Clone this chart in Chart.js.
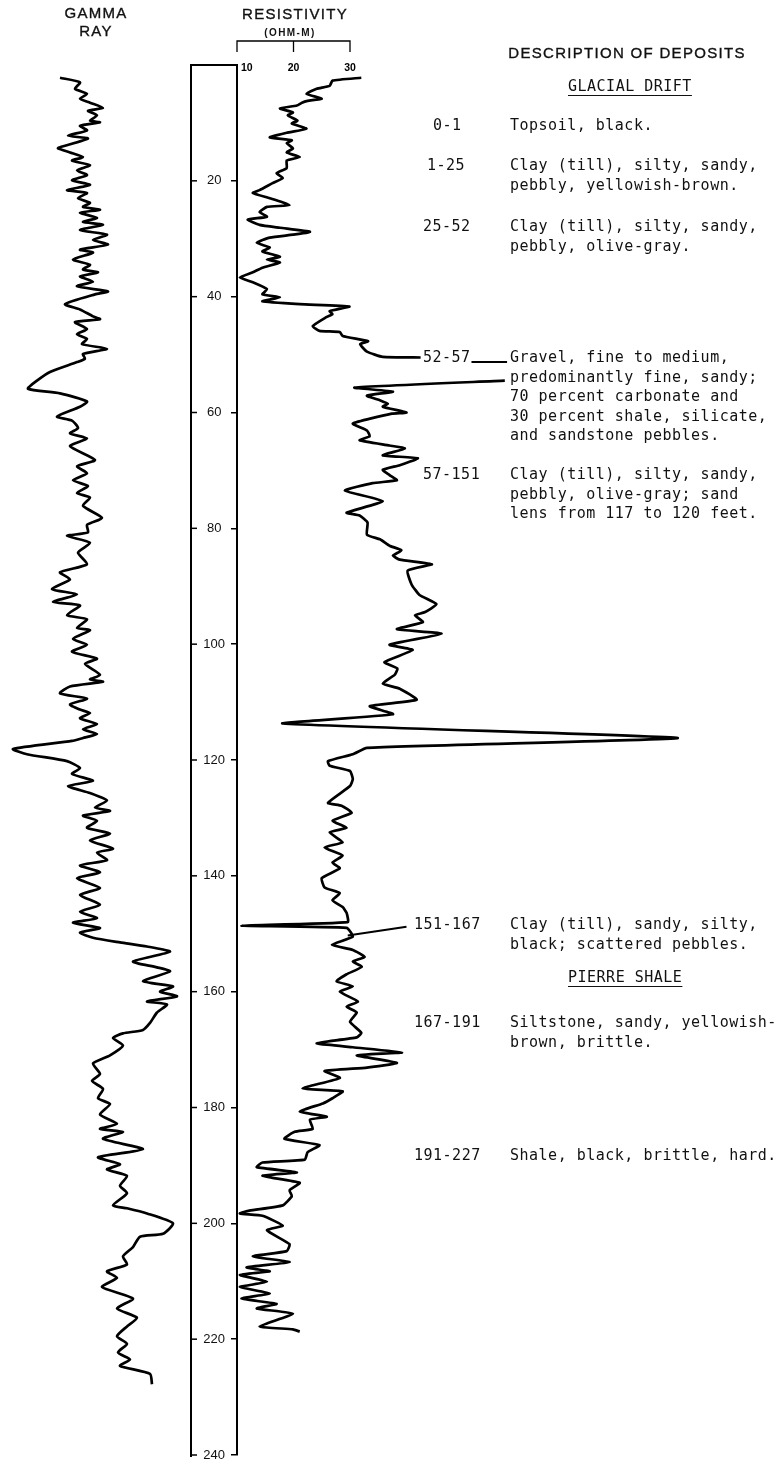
<!DOCTYPE html>
<html lang="en">
<head>
<meta charset="utf-8">
<title>Gamma ray and resistivity log</title>
<script src="https://cdn.jsdelivr.net/npm/chart.js@4.4.1/dist/chart.umd.min.js"></script>
<style>
  html, body { margin:0; padding:0; background:#fff; }
  #page { position:relative; width:782px; height:1460px; overflow:hidden; background:#fff; }
  #gammaChart { position:absolute; left:0; top:0; }
  #resChart { position:absolute; left:186px; top:0; }
  .hd { position:absolute; transform:translate(-50%,-50%); font-family:"Liberation Sans", Arial, sans-serif;
        font-size:15px; letter-spacing:1.3px; color:#111; white-space:nowrap; line-height:1;
        -webkit-text-stroke:0.35px #111; }
  .sub { font-size:10px; font-weight:bold; letter-spacing:1.4px; -webkit-text-stroke:0; }
  .mono { position:absolute; font-family:"DejaVu Sans Mono", monospace; font-size:15px; letter-spacing:0.5px;
          color:#111; white-space:pre; line-height:19.5px; }
  .ul { text-decoration:underline; text-underline-offset:4px; text-decoration-thickness:1px; }
</style>
</head>
<body>
<div id="page">
  <canvas id="gammaChart" width="190" height="1460"></canvas>
  <canvas id="resChart" width="596" height="1460"></canvas>
  <div class="hd" style="left:96px;top:12px">GAMMA</div>
  <div class="hd" style="left:96px;top:30px">RAY</div>
  <div class="hd" style="left:295px;top:12.5px">RESISTIVITY</div>
  <div class="hd sub" style="left:290px;top:32.5px">(OHM-M)</div>
  <div class="hd" style="left:627px;top:52px">DESCRIPTION OF DEPOSITS</div>
  <div id="desc"></div>
</div>
<script>
// ---- Depth scale (feet) ----
const depthMin = 0;
const depthMax = 240;
const depthStep = 20;

// ---- Resistivity scale ticks (ohm-m) ----
const resTicks = [10, 20, 30];

// ---- Gamma-ray log: depth (ft) and relative response ----
const gammaDepth = [2.2,3.0,4.1,5.0,5.8,6.5,7.4,7.9,8.7,9.6,9.9,10.5,11.3,12.2,12.7,14.2,14.4,15.1,15.9,16.5,17.3,18.2,19.0,19.9,20.7,21.6,22.1,23.0,23.8,24.5,25.0,25.5,26.4,27.1,27.6,28.5,29.3,30.2,31.0,31.9,32.4,33.6,34.5,35.3,35.8,36.5,37.4,38.2,39.1,39.6,41.3,42.2,43.4,43.9,44.4,45.6,46.5,47.3,48.2,49.0,49.9,50.7,51.3,53.0,54.5,55.9,56.7,58.1,59.0,60.7,61.4,62.7,63.6,64.5,65.8,68.2,69.3,70.5,71.7,72.7,73.9,74.7,76.1,78.2,79.4,80.7,81.3,82.5,84.2,86.2,87.6,88.8,90.5,91.4,92.7,93.3,95.0,95.7,97.2,97.6,99.1,100.1,101.3,102.5,103.4,105.3,106.1,106.5,107.3,108.5,109.4,110.4,111.3,111.9,112.8,113.8,114.7,115.5,116.2,116.7,118.1,119.0,120.2,121.4,122.4,123.6,124.5,125.7,127.0,128.2,128.8,129.6,130.5,131.7,132.7,133.9,135.3,136.0,137.3,138.2,139.4,140.4,142.1,143.3,145.0,146.2,147.3,148.1,149.0,149.8,150.7,151.5,152.2,153.1,154.8,155.8,156.5,158.2,159.1,160.0,160.8,161.7,162.2,163.6,165.4,166.6,167.2,168.0,169.3,171.0,172.4,174.2,175.4,176.8,178.4,179.4,181.2,182.8,183.7,184.2,185.4,187.2,188.6,189.8,190.7,191.8,193.5,194.8,196.9,197.4,198.3,200.0,201.8,202.3,204.1,205.7,207.1,208.3,209.4,211.0,213.0,214.7,216.3,217.8,219.5,220.8,222.3,223.5,224.6,226.0,227.8];
const gammaValue = [30,40,37.5,43.5,40,45,51.5,44,48.5,45,50,40,43.5,34,44,30,29,35,41.5,36,45,38.5,43.5,36,45,33.5,43.5,39,45,41.5,50,40,48.5,41.5,51.5,40,53.5,46.5,54,40,46.5,36.5,45,41.5,49,40,46.5,38.5,54,47.5,32.5,40,46.5,50,37.5,43.5,38.5,43.5,41,53.5,41.5,42.5,38.5,25,18.5,14,30,43.5,40,28.5,36,39,35,43.5,35,47.5,38.5,43.5,36.5,44,38.5,45,41.5,51,43.5,44,33.5,45,39,43.5,30,35,26,38.5,26.5,40,33.5,43.5,38.5,45,36.5,43.5,36,48.5,42.5,50,45,51.5,35,30,43.5,35,40,45,40,48.5,41.5,48.5,41.5,36,6.5,13.5,33.5,40,36,46.5,34,45,53.5,47.5,55,41.5,48.5,43.5,55,45,56.5,48.5,53.5,40,50,38.5,50,40,50,40,48.5,36.5,50,40,46.5,60,73.5,85,66.5,78.5,85,71.5,86.5,80,88.5,73.5,83.5,78.5,75,71.5,61.5,56.5,61.5,55,46.5,50,46,51.5,49,55,50,58.5,50,61.5,51.5,71.5,49,60,53.5,63.5,60,63.5,56.5,63.5,73.5,86.5,81.5,70,66.5,61.5,63.5,53.5,58.5,51,66.5,58.5,68.5,63.5,58.5,63.5,59,65,60,75,76];

// ---- Resistivity log: depth (ft) and ohm-m; null marks the off-scale gravel interval ----
const resDepth = [2.2,2.7,3.6,4.1,5.0,5.8,6.2,6.5,7.0,7.5,8.2,8.7,9.6,10.1,11.0,11.7,12.5,13.0,13.5,14.4,15.1,15.9,16.5,17.8,18.7,19.5,20.4,21.6,22.1,23.0,24.2,24.5,25.4,26.2,26.7,27.6,28.1,28.8,29.3,29.8,30.7,31.5,32.2,33.1,33.6,34.1,35.0,35.8,36.7,37.5,38.7,39.6,40.1,40.8,41.3,41.7,42.5,43.0,43.5,45.1,45.9,46.1,46.8,47.7,48.2,49.5,50.4,50.5,52.5,54.5,55.7,56.4,57.1,57.9,58.5,59.0,60.0,60.2,61.9,63.1,64.1,64.8,65.7,66.2,67.4,67.9,69.1,69.9,70.8,71.7,72.2,73.5,75.3,77.3,77.8,79.0,81.1,81.9,83.0,83.8,84.7,85.4,86.2,87.3,89.7,91.5,93.1,94.5,95.0,96.2,97.4,98.2,100.1,101.0,103.1,104.2,105.3,106.8,107.7,109.6,110.7,112.1,113.7,116.2,117.9,119.0,120.2,121.0,121.9,123.3,124.5,127.4,127.9,129.1,130.5,131.7,132.5,134.2,135.1,136.5,137.7,138.7,140.4,142.0,143.0,144.2,145.4,146.4,148.0,148.6,149.0,150.5,151.9,152.8,154.0,154.8,155.7,157.0,158.2,159.1,160.0,161.7,162.6,163.6,165.2,167.1,167.9,168.9,169.6,170.5,171.0,172.3,173.1,173.7,174.9,176.7,177.2,178.4,179.3,180.7,181.6,182.1,183.7,184.2,185.4,186.5,187.7,189.0,189.5,190.3,191.2,191.8,193.0,194.3,195.3,196.9,197.8,198.3,198.7,200.4,201.2,203.6,204.8,205.7,206.7,207.6,208.3,208.9,210.1,211.0,212.1,213.0,213.9,214.7,215.6,217.8,218.3,218.7];
const resValue = [32.0,26.9,26.4,24.1,22.3,25.0,22.5,21.5,20.6,17.6,19.9,19.0,20.7,19.7,22.3,18.8,15.8,19.7,18.8,19.9,18.8,21.1,18.8,18.8,17.0,18.1,16.3,14.0,12.8,15.8,19.3,15.3,14.0,15.3,11.9,14.0,17.6,22.9,19.9,15.8,13.5,15.8,14.5,17.6,15.3,17.6,14.5,12.8,10.5,12.8,15.3,14.5,17.6,14.5,21.1,29.9,26.4,26.9,25.9,23.4,24.6,28.2,28.7,33.2,31.8,33.0,35.8,42.5,null,57.4,30.8,37.6,33.0,35.3,36.7,35.8,40.0,37.4,30.5,33.0,33.5,31.7,37.0,39.7,35.8,42.0,38.8,35.8,37.0,38.3,34.0,29.1,35.8,29.4,31.7,33.1,33.0,35.3,37.0,39.1,37.6,38.8,44.5,40.2,40.9,42.3,45.3,43.2,41.5,42.9,38.3,46.2,37.0,41.1,36.1,38.4,37.9,35.8,38.8,41.8,33.5,37.6,18.1,88.0,33.0,30.5,26.1,26.4,30.0,30.5,30.0,26.1,28.5,30.3,26.9,29.4,26.4,28.7,25.5,28.7,26.9,28.2,25.0,25.5,28.2,26.9,28.7,29.4,29.6,10.8,29.4,30.5,26.8,30.5,32.6,30.5,32.1,29.4,27.6,30.5,28.2,31.4,29.4,31.2,30.0,32.0,31.2,24.1,30.5,39.2,31.2,38.3,33.0,25.5,28.2,21.6,28.7,26.9,25.2,21.1,25.9,22.9,23.4,20.2,18.4,24.6,22.5,22.0,14.5,13.5,20.6,14.5,21.1,19.3,19.7,18.1,12.2,10.5,14.5,18.1,15.3,19.3,18.8,12.8,19.3,11.7,15.8,10.5,15.3,10.5,15.8,10.8,17.0,13.5,19.9,14.0,19.9,21.1];

// ---- Lithologic description column ----
const deposits = [
  { range: '0-1',     lines: ['Topsoil, black.'] },
  { range: '1-25',    lines: ['Clay (till), silty, sandy,', 'pebbly, yellowish-brown.'] },
  { range: '25-52',   lines: ['Clay (till), silty, sandy,', 'pebbly, olive-gray.'] },
  { range: '52-57',   lines: ['Gravel, fine to medium,', 'predominantly fine, sandy;', '70 percent carbonate and', '30 percent shale, silicate,', 'and sandstone pebbles.'] },
  { range: '57-151',  lines: ['Clay (till), silty, sandy,', 'pebbly, olive-gray; sand', 'lens from 117 to 120 feet.'] },
  { range: '151-167', lines: ['Clay (till), sandy, silty,', 'black; scattered pebbles.'] },
  { range: '167-191', lines: ['Siltstone, sandy, yellowish-', 'brown, brittle.'] },
  { range: '191-227', lines: ['Shale, black, brittle, hard.'] }
];
const units = ['GLACIAL DRIFT', 'PIERRE SHALE'];

// text layout of the description column (page pixels)
const descLineTop = [126, 166, 227, 358, 475, 925, 1023, 1156];
const descRangeLeft = [433, 427, 423, 423, 423, 414, 414, 414];
const unitLineTop = [86.5, 978];
const descTextLeft = 510;
const unitLeft = 568;
const LINE_H = 19.5;

const desc = document.getElementById('desc');
function addText(text, left, centerY, cls) {
  const el = document.createElement('div');
  el.className = 'mono' + (cls ? ' ' + cls : '');
  el.style.left = left + 'px';
  el.style.top = (centerY - LINE_H / 2) + 'px';
  el.textContent = text;
  desc.appendChild(el);
}
deposits.forEach((dep, i) => {
  addText(dep.range, descRangeLeft[i], descLineTop[i]);
  addText(dep.lines.join('\n'), descTextLeft, descLineTop[i]);
});
units.forEach((u, i) => addText(u, unitLeft, unitLineTop[i], 'ul'));

// ---- shared geometry of the log tracks ----
const TRACK_TOP = 65;
const TRACK_BOTTOM_PAD = 5;
const RES_PX_PER_UNIT = 5.65;
const RES_CANVAS_W = 596;
const DEPTH_COL_W = 47;
const RES_PAD_LEFT = 4;

const black = '#000';
const curveWidth = 2.7;

// gamma-ray track
new Chart(document.getElementById('gammaChart'), {
  type: 'scatter',
  data: {
    datasets: [{
      data: gammaDepth.map((d, i) => ({ x: gammaValue[i], y: d })),
      showLine: true, borderColor: black, borderWidth: curveWidth,
      pointRadius: 0, tension: 0.2, fill: false
    }]
  },
  options: {
    responsive: false, animation: false, events: [],
    layout: { padding: { left: 0, right: 10, top: TRACK_TOP, bottom: TRACK_BOTTOM_PAD } },
    plugins: { legend: { display: false }, tooltip: { enabled: false } },
    scales: {
      x: { type: 'linear', min: 0, max: 90, display: false },
      y: { type: 'linear', min: depthMin, max: depthMax, reverse: true, display: false }
    }
  }
});

// leader lines from curve to the description column, in [depth, ohm-m]
const leaders = [
  [[51.3, 51.5], [51.3, 57.8]],
  [[150.3, 29.6], [148.8, 40.0]]
];

const logFrame = {
  id: 'logFrame',
  afterDraw(chart) {
    const { ctx, scales: { x, y } } = chart;
    const top = y.getPixelForValue(depthMin);
    const bottom = y.getPixelForValue(depthMax);
    const left = y.left + 1;
    const right = y.right;
    ctx.save();
    ctx.strokeStyle = black;
    ctx.lineWidth = 2;
    ctx.beginPath();
    ctx.moveTo(left, bottom + 2);
    ctx.lineTo(left, top);
    ctx.lineTo(right, top);
    ctx.stroke();
    ctx.lineWidth = 1.5;
    for (let d = depthStep; d <= depthMax; d += depthStep) {
      const py = y.getPixelForValue(d);
      ctx.beginPath();
      ctx.moveTo(left, py);
      ctx.lineTo(left + 6, py);
      ctx.stroke();
    }
    // resistivity scale bracket
    const bx = resTicks.map(v => x.getPixelForValue(v));
    ctx.lineWidth = 1.3;
    ctx.beginPath();
    ctx.moveTo(bx[0], 52); ctx.lineTo(bx[0], 41); ctx.lineTo(bx[bx.length - 1], 41); ctx.lineTo(bx[bx.length - 1], 52);
    for (let i = 1; i < bx.length - 1; i++) { ctx.moveTo(bx[i], 41); ctx.lineTo(bx[i], 52); }
    ctx.stroke();
    ctx.fillStyle = black;
    ctx.font = 'bold 10.5px "Liberation Sans", Arial, sans-serif';
    ctx.textBaseline = 'middle';
    resTicks.forEach((v, i) => {
      ctx.textAlign = i === 0 ? 'left' : 'center';
      ctx.fillText(String(v), bx[i] + (i === 0 ? 4 : 0), 68);
    });
    // leaders
    ctx.lineWidth = 2;
    leaders.forEach(([a, b]) => {
      ctx.beginPath();
      ctx.moveTo(x.getPixelForValue(a[1]), y.getPixelForValue(a[0]));
      ctx.lineTo(x.getPixelForValue(b[1]), y.getPixelForValue(b[0]));
      ctx.stroke();
    });
    ctx.restore();
  }
};

// resistivity track with depth column
new Chart(document.getElementById('resChart'), {
  type: 'scatter',
  data: {
    datasets: [{
      data: resDepth.map((d, i) => ({ x: resValue[i], y: d })),
      showLine: true, spanGaps: false, borderColor: black, borderWidth: curveWidth,
      pointRadius: 0, tension: 0.15, fill: false
    }]
  },
  options: {
    responsive: false, animation: false, events: [],
    layout: { padding: { left: RES_PAD_LEFT, right: 0, top: TRACK_TOP, bottom: TRACK_BOTTOM_PAD } },
    plugins: { legend: { display: false }, tooltip: { enabled: false } },
    scales: {
      x: {
        type: 'linear', min: resTicks[0],
        max: resTicks[0] + (RES_CANVAS_W - RES_PAD_LEFT - DEPTH_COL_W) / RES_PX_PER_UNIT,
        display: false
      },
      y: {
        type: 'linear', min: depthMin, max: depthMax, reverse: true, position: 'left',
        afterFit(scale) {
          // same vertical extent as the gamma track
          scale.width = DEPTH_COL_W;
          scale.paddingTop = 0;
          scale.paddingBottom = 0;
        },
        border: { display: true, color: black, width: 2 },
        grid: { drawOnChartArea: false, drawTicks: true, tickLength: 6, color: black, lineWidth: 1.5 },
        ticks: {
          stepSize: depthStep, crossAlign: 'center', padding: 6, color: '#111',
          font: { family: '"Liberation Sans", Arial, sans-serif', size: 13 },
          callback: v => (v === 0 ? '' : String(v))
        }
      }
    }
  },
  plugins: [logFrame]
});
</script>
</body>
</html>
